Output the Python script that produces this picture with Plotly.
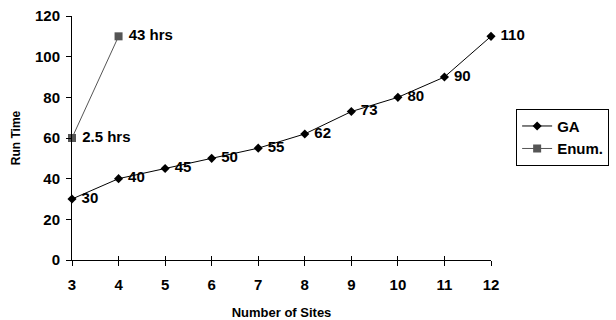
import plotly.graph_objects as go

sites = [3, 4, 5, 6, 7, 8, 9, 10, 11, 12]
ga_times = [30, 40, 45, 50, 55, 62, 73, 80, 90, 110]
ga_labels = ["30", "40", "45", "50", "55", "62", "73", "80", "90", "110"]
enum_sites = [3, 4]
enum_times = [60, 110]
enum_labels = ["2.5 hrs", "43 hrs"]
y_ticks = [0, 20, 40, 60, 80, 100, 120]

font = "Liberation Sans, Arial, sans-serif"
NB = "\u00a0"

fig = go.Figure()
fig.add_trace(go.Scatter(
    x=sites, y=ga_times, name="GA", mode="lines+markers+text",
    text=[NB + t for t in ga_labels], textposition="middle right",
    textfont=dict(family=font, size=15, color="black", weight="bold"),
    line=dict(color="black", width=1),
    marker=dict(symbol="diamond", size=7, color="black"),
    cliponaxis=False,
))
fig.add_trace(go.Scatter(
    x=enum_sites, y=enum_times, name="Enum.", mode="lines+markers+text",
    text=[NB + t for t in enum_labels], textposition="middle right",
    textfont=dict(family=font, size=15, color="black", weight="bold"),
    line=dict(color="#555555", width=1),
    marker=dict(symbol="square", size=8, color="#555555"),
    cliponaxis=False,
))
# invisible trace on an overlay axis to get inward ticks too (crossing ticks)
fig.add_trace(go.Scatter(x=[3], y=[0], xaxis="x2", yaxis="y", showlegend=False,
                         mode="markers", marker=dict(opacity=0), hoverinfo="skip"))

fig.update_layout(
    width=616, height=320,
    margin=dict(l=72, r=125, t=16, b=60, autoexpand=False),
    plot_bgcolor="white", paper_bgcolor="white",
    font=dict(family=font, color="black"),
    xaxis=dict(
        range=[3, 12], tickvals=sites, ticks="outside", ticklen=5, tickwidth=1,
        tickcolor="black", showgrid=False, zeroline=False, automargin=False,
        showline=True, linecolor="black", linewidth=1,
        tickfont=dict(family=font, size=15, color="black", weight="bold"),
        ticklabelstandoff=6,
        title=dict(text="Number of Sites",
                   font=dict(family=font, size=13, color="black", weight="bold"), standoff=15),
    ),
    xaxis2=dict(
        range=[3, 12], tickvals=sites, ticks="inside", ticklen=4, tickwidth=1,
        tickcolor="black", overlaying="x", side="bottom", showticklabels=False,
        showgrid=False, zeroline=False, showline=False, automargin=False,
    ),
    yaxis=dict(
        range=[0, 120], tickvals=y_ticks, ticks="outside",
        ticklen=5, tickwidth=1, tickcolor="black", showgrid=False, zeroline=False,
        showline=True, linecolor="black", linewidth=1, automargin=False,
        tickfont=dict(family=font, size=15, color="black", weight="bold"),
        ticklabelstandoff=3,
        title=dict(text="Run Time",
                   font=dict(family=font, size=12, color="black", weight="bold"), standoff=11),
    ),
    legend=dict(
        x=1.06, y=0.62, xanchor="left", yanchor="top",
        bordercolor="black", borderwidth=1, bgcolor="white",
        font=dict(family=font, size=15, color="black", weight="bold"),
        tracegroupgap=0, itemwidth=30,
    ),
)
fig.write_html("out.html", config={"displayModeBar": False},
               post_script="document.body.style.margin='0';document.body.style.overflow='hidden';")
